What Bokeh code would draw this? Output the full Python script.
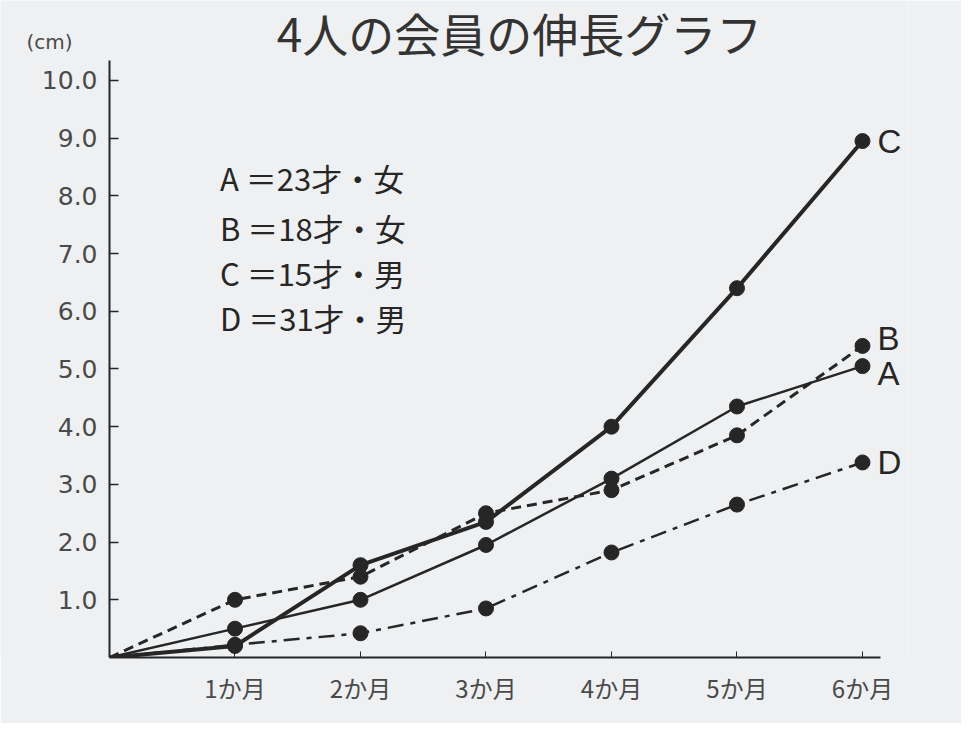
from bokeh.plotting import figure
from bokeh.models import FixedTicker, Label, Range1d
from bokeh.embed import file_html
from bokeh.resources import INLINE

# ---- data ----
months = [0, 1, 2, 3, 4, 5, 6]
month_labels = ["", "1か月", "2か月", "3か月", "4か月", "5か月", "6か月"]
series_A = [0, 0.5, 1.0, 1.95, 3.1, 4.35, 5.05]
series_B = [0, 1.0, 1.4, 2.5, 2.9, 3.85, 5.4]
series_C = [0, 0.2, 1.6, 2.35, 4.0, 6.4, 8.95]
series_D = [0, 0.22, 0.42, 0.85, 1.82, 2.65, 3.38]
y_ticks = [1, 2, 3, 4, 5, 6, 7, 8, 9, 10]
legend_lines = ["A ＝23才・女", "B ＝18才・女", "C ＝15才・男", "D ＝31才・男"]
series_names = ["A", "B", "C", "D"]
title_text = "4人の会員の伸長グラフ"
unit_text = "(cm)"

BG = "#eef0f2"
INK = "#262626"
GRAY = "#4a4a4a"
JP = "Noto Sans CJK JP"

p = figure(width=961, height=723, output_backend="svg", toolbar_location=None,
           x_range=Range1d(-0.8685, 6.3586), y_range=Range1d(0, 11.386),
           min_border_left=0, min_border_right=54, min_border_top=0,
           min_border_bottom=66)
p.background_fill_color = BG
p.border_fill_color = BG
p.outline_line_color = None
p.grid.visible = False

# axes
p.yaxis.fixed_location = 0
p.yaxis.bounds = (0, 10.35)
p.yaxis.ticker = FixedTicker(ticks=y_ticks)
p.yaxis.major_label_overrides = {t: f"{t:.1f}" for t in y_ticks}
p.yaxis.major_tick_in = 9
p.yaxis.major_tick_out = 0
p.yaxis.minor_tick_line_color = None
p.yaxis.axis_line_color = INK
p.yaxis.axis_line_width = 2
p.yaxis.major_tick_line_color = INK
p.yaxis.major_tick_line_width = 1.5
p.yaxis.major_label_text_font = "DejaVu Sans"
p.yaxis.major_label_text_font_size = "25px"
p.yaxis.major_label_text_color = GRAY
p.yaxis.major_label_standoff = 12

p.xaxis.bounds = (0, 6.14)
p.xaxis.ticker = FixedTicker(ticks=months[1:])
p.xaxis.major_label_overrides = {m: l for m, l in zip(months, month_labels) if l}
p.xaxis.major_tick_in = 6
p.xaxis.major_tick_out = 0
p.xaxis.minor_tick_line_color = None
p.xaxis.axis_line_color = INK
p.xaxis.axis_line_width = 2
p.xaxis.major_tick_line_color = INK
p.xaxis.major_tick_line_width = 1
p.xaxis.major_label_text_font = JP
p.xaxis.major_label_text_font_size = "24px"
p.xaxis.major_label_text_color = GRAY
p.xaxis.major_label_standoff = 12

# series
styles = {
    "A": dict(line_width=2.5, line_dash="solid"),
    "B": dict(line_width=3, line_dash="10 6"),
    "C": dict(line_width=4, line_dash="solid"),
    "D": dict(line_width=2.5, line_dash="16 7 5 7"),
}
data = {"A": series_A, "B": series_B, "C": series_C, "D": series_D}
for name in ["D", "A", "B", "C"]:
    ys = data[name]
    p.line(months, ys, line_color=INK, **styles[name])
    p.scatter(months[1:], ys[1:], size=15, fill_color=INK, line_color=INK)

# end labels
label_offsets = {"A": -0.13, "B": 0.13, "C": 0.0, "D": 0.0}
for name in series_names:
    p.add_layout(Label(x=months[-1] + 0.12, y=data[name][-1] + label_offsets[name],
                       text=name, text_font="Liberation Sans", text_font_size="33px",
                       text_color=INK, text_align="left", text_baseline="middle"))

# legend text block
legend_y = [8.32, 7.45, 6.67, 5.89]
for txt, yy in zip(legend_lines, legend_y):
    p.add_layout(Label(x=0.88, y=yy, text=txt, text_font=JP, text_font_size="31px",
                       text_color=INK, text_align="left", text_baseline="middle"))

# title and unit
p.add_layout(Label(x=3.267, y=10.84, text=title_text, text_font=JP,
                   text_font_size="46px", text_color="#333333",
                   text_align="center", text_baseline="middle"))
p.add_layout(Label(x=-0.478, y=10.66, text=unit_text, text_font="DejaVu Sans",
                   text_font_size="20px", text_color=GRAY,
                   text_align="center", text_baseline="middle"))

open("out.html", "w").write(file_html(p, INLINE))
